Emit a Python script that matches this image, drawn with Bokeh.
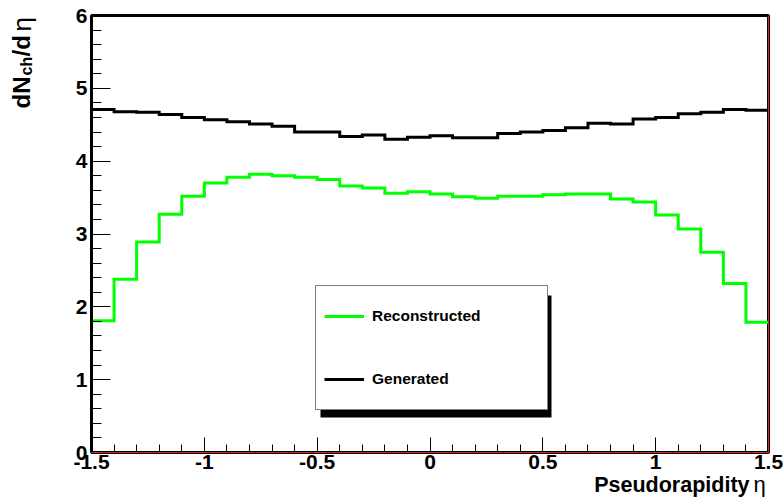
import numpy as np
from math import pi
from bokeh.plotting import figure
from bokeh.models import (Range1d, FixedTicker, LinearAxis, Legend, LegendItem,
                          BoxAnnotation, Label)
from bokeh.embed import file_html
from bokeh.resources import INLINE

# ---- data -------------------------------------------------------------
bin_edges = [-1.5, -1.4, -1.3, -1.2, -1.1, -1.0, -0.9, -0.8, -0.7, -0.6,
             -0.5, -0.4, -0.3, -0.2, -0.1, 0.0, 0.1, 0.2, 0.3, 0.4,
             0.5, 0.6, 0.7, 0.8, 0.9, 1.0, 1.1, 1.2, 1.3, 1.4, 1.5]

reconstructed = [1.81, 2.38, 2.89, 3.27, 3.52, 3.70, 3.78, 3.82, 3.80, 3.78,
                 3.75, 3.66, 3.63, 3.56, 3.58, 3.55, 3.51, 3.49, 3.52, 3.52,
                 3.54, 3.55, 3.55, 3.48, 3.44, 3.26, 3.07, 2.75, 2.32, 1.79]

generated = [4.71, 4.68, 4.67, 4.64, 4.60, 4.57, 4.54, 4.51, 4.48, 4.40,
             4.40, 4.34, 4.36, 4.30, 4.33, 4.35, 4.32, 4.32, 4.38, 4.40,
             4.42, 4.46, 4.52, 4.51, 4.58, 4.60, 4.65, 4.67, 4.71, 4.70]

x_tick_values = [-1.5, -1.0, -0.5, 0.0, 0.5, 1.0, 1.5]
x_tick_labels = ["-1.5", "-1", "-0.5", "0", "0.5", "1", "1.5"]
y_tick_values = [0, 1, 2, 3, 4, 5, 6]

series_names = ["Reconstructed", "Generated"]
x_title = "Pseudorapidity"
greek_eta = "\u03b7"

X_MIN, X_MAX = bin_edges[0], bin_edges[-1]
Y_MIN, Y_MAX = 0, 6


def hist_steps(edges, vals):
    xs = [edges[0]]
    ys = [0.0]
    for i, v in enumerate(vals):
        xs += [edges[i], edges[i + 1]]
        ys += [v, v]
    return xs, ys


FONT = "Liberation Sans"
W, H = 783, 498
# pixel box of the axes area (left, right, top, bottom)
FL, FR, FT, FB = 91, 768, 15, 452
sx = (FR - FL) / (X_MAX - X_MIN)
sy = (FB - FT) / (Y_MAX - Y_MIN)
x_range = Range1d(X_MIN - FL / sx, X_MAX + (W - FR) / sx)
y_range = Range1d(Y_MIN - (H - FB) / sy, Y_MAX + FT / sy)

p = figure(width=W, height=H, x_range=x_range, y_range=y_range,
           output_backend="svg", toolbar_location=None,
           x_axis_location=None, y_axis_location=None,
           min_border=0, min_border_left=0, min_border_right=0,
           min_border_top=0, min_border_bottom=0)
p.grid.visible = False
p.outline_line_color = None
p.background_fill_color = "white"
p.border_fill_color = "white"

# minor tick positions (5 subdivisions)
x_minor = [round(a + k * 0.1, 2) for a in x_tick_values[:-1] for k in range(1, 5)]
y_minor = [round(a + k * 0.2, 2) for a in y_tick_values[:-1] for k in range(1, 5)]

xaxis = LinearAxis(fixed_location=Y_MIN,
                   ticker=FixedTicker(ticks=x_tick_values, minor_ticks=x_minor))
yaxis = LinearAxis(fixed_location=X_MIN,
                   ticker=FixedTicker(ticks=y_tick_values, minor_ticks=y_minor))
xaxis.major_label_overrides = {v: t for v, t in zip(x_tick_values, x_tick_labels)}
for ax in (xaxis, yaxis):
    ax.axis_line_color = None
    ax.major_tick_out = 0
    ax.minor_tick_out = 0
    ax.major_tick_line_color = "black"
    ax.minor_tick_line_color = "black"
    ax.major_tick_line_width = 1
    ax.minor_tick_line_width = 1
    ax.major_label_text_font = FONT
    ax.major_label_text_font_style = "bold"
    ax.major_label_text_font_size = "21px"
    ax.major_label_text_color = "black"
xaxis.major_tick_in = 15
xaxis.minor_tick_in = 8
xaxis.major_label_standoff = 2
yaxis.major_tick_in = 19
yaxis.minor_tick_in = 10
yaxis.major_label_standoff = 4
p.add_layout(xaxis, "below")
p.add_layout(yaxis, "left")

# frame box (under the histograms)
p.add_layout(BoxAnnotation(left=X_MIN, right=X_MAX, bottom=Y_MIN, top=Y_MAX,
                           fill_color=None, fill_alpha=0, line_color="black",
                           line_alpha=1.0, line_width=3, level="underlay"))

# histograms
xr, yr = hist_steps(bin_edges, reconstructed)
xg, yg = hist_steps(bin_edges, generated)
r_rec = p.line(xr, yr, line_color="#00ff00", line_width=3, line_join="miter")
r_gen = p.line(xg, yg, line_color="black", line_width=3, line_join="miter")

# thin red zero-line and right edge
p.line([X_MIN, X_MAX, X_MAX], [Y_MIN, Y_MIN, Y_MAX], line_color="#e02020",
       line_width=1, level="overlay")

# legend with shadow (screen units, frame = canvas, y up)
p.add_layout(BoxAnnotation(left=320, right=551, bottom=H - 417, top=H - 295,
                           left_units="screen", right_units="screen",
                           top_units="screen", bottom_units="screen",
                           fill_color="black", fill_alpha=1.0,
                           line_color=None))

legend = Legend(items=[LegendItem(label=series_names[0], renderers=[r_rec]),
                       LegendItem(label=series_names[1], renderers=[r_gen])],
                location=(315, H - 410), orientation="vertical",
                padding=8, spacing=19, glyph_width=40, glyph_height=44,
                label_height=44, label_width=167, label_standoff=8, margin=0,
                border_line_color="black", border_line_width=1,
                background_fill_color="white", background_fill_alpha=1.0,
                label_text_font=FONT, label_text_font_style="bold",
                label_text_font_size="15.5px", label_text_color="black")
p.add_layout(legend)

# x title (baseline values compensated for Bokeh's label offset)
XT_BASE = 484
p.add_layout(Label(x=749, y=H - XT_BASE, x_units="screen", y_units="screen",
                   text=x_title, text_align="right", text_baseline="alphabetic",
                   text_font=FONT, text_font_style="bold",
                   text_font_size="21.5px", text_color="black"))
p.add_layout(Label(x=753, y=H - XT_BASE, x_units="screen", y_units="screen",
                   text=greek_eta, text_align="left", text_baseline="alphabetic",
                   text_font=FONT, text_font_style="normal",
                   text_font_size="22px", text_color="black"))


# y title: dN_ch/d eta (rotated, reading upward)
def ylab(text, page_y, size, style="bold", page_x=21):
    p.add_layout(Label(x=page_x, y=H - page_y, x_units="screen", y_units="screen",
                       text=text, angle=pi / 2, text_align="left",
                       text_baseline="alphabetic", text_font=FONT,
                       text_font_style=style, text_font_size=size,
                       text_color="black"))


ylab("dN", 108, "24px")
ylab("ch", 75, "16px", page_x=26)
ylab("/d", 56, "24px")
ylab(greek_eta, 31, "26px", style="normal")

open("out.html", "w").write(file_html(p, INLINE))
